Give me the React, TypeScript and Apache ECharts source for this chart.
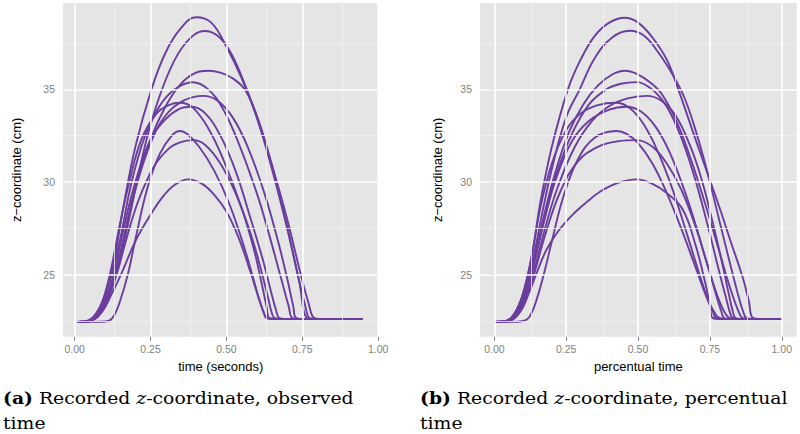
import React, { useEffect, useRef } from "react";
import * as echarts from "echarts";

// ---- axis breaks ----
const xTicks = [0, 0.25, 0.5, 0.75, 1];
const xMinor = [0.125, 0.375, 0.625, 0.875];
const yTicks = [25, 30, 35];
const yMinor = [22.5, 27.5, 32.5, 37.5];

// ---- panel (a): observed time (seconds) vs z (cm) ----
const obsTrial01 = [[0.01,22.45],[0.04,22.5],[0.07,22.9],[0.1,23.9],[0.125,25.3],[0.16,28.6],[0.2,31.9],[0.253,35.0],[0.3,37.0],[0.35,38.3],[0.399,38.89],[0.45,38.6],[0.5,37.3],[0.55,35.6],[0.6,33.5],[0.65,30.9],[0.7,28.0],[0.745,25.0],[0.77,23.5],[0.79,22.65],[0.82,22.6],[0.95,22.6]];
const obsTrial02 = [[0.01,22.45],[0.05,22.5],[0.08,22.9],[0.11,23.9],[0.14,25.3],[0.17,27.3],[0.2,29.6],[0.24,32.5],[0.29,35.1],[0.34,36.9],[0.39,37.9],[0.429,38.15],[0.47,37.9],[0.51,37.1],[0.55,35.7],[0.6,33.5],[0.65,30.7],[0.7,27.5],[0.735,25.0],[0.76,23.3],[0.774,22.65],[0.8,22.6],[0.95,22.6]];
const obsTrial03 = [[0.01,22.45],[0.05,22.5],[0.08,22.8],[0.11,23.7],[0.14,25.4],[0.17,27.6],[0.2,29.7],[0.25,32.3],[0.3,34.1],[0.35,35.3],[0.4,35.9],[0.44,36.0],[0.48,35.9],[0.52,35.6],[0.56,35.0],[0.6,33.6],[0.65,30.9],[0.7,27.6],[0.74,24.6],[0.765,22.65],[0.79,22.6],[0.95,22.6]];
const obsTrial04 = [[0.01,22.45],[0.05,22.5],[0.08,22.9],[0.1,23.8],[0.125,25.2],[0.15,26.9],[0.185,29.8],[0.23,32.4],[0.28,34.1],[0.33,35.0],[0.388,35.38],[0.44,35.0],[0.49,33.9],[0.54,32.1],[0.6,29.4],[0.64,27.2],[0.68,24.8],[0.705,23.3],[0.718,22.65],[0.75,22.6],[0.95,22.6]];
const obsTrial05 = [[0.01,22.45],[0.05,22.5],[0.085,22.9],[0.11,23.8],[0.135,25.1],[0.165,27.2],[0.2,29.6],[0.25,32.1],[0.3,33.6],[0.36,34.4],[0.423,34.65],[0.47,34.4],[0.52,33.5],[0.57,31.9],[0.625,29.4],[0.67,26.8],[0.7,24.8],[0.72,23.3],[0.73,22.65],[0.76,22.6],[0.95,22.6]];
const obsTrial06 = [[0.01,22.45],[0.045,22.5],[0.075,22.9],[0.1,24.0],[0.12,25.3],[0.15,27.8],[0.18,30.0],[0.22,32.3],[0.27,33.7],[0.31,34.15],[0.347,34.28],[0.39,34.0],[0.44,32.9],[0.49,31.2],[0.55,28.6],[0.59,26.4],[0.615,24.6],[0.632,23.3],[0.642,22.65],[0.67,22.6],[0.95,22.6]];
const obsTrial07 = [[0.01,22.45],[0.05,22.5],[0.08,22.9],[0.105,23.8],[0.13,25.1],[0.16,27.4],[0.2,30.0],[0.25,32.3],[0.3,33.4],[0.345,33.95],[0.385,34.06],[0.43,33.7],[0.48,32.5],[0.53,30.6],[0.58,28.0],[0.62,25.8],[0.645,24.2],[0.663,23.1],[0.675,22.65],[0.7,22.6],[0.95,22.6]];
const obsTrial08 = [[0.01,22.45],[0.06,22.45],[0.11,22.5],[0.13,22.8],[0.15,23.6],[0.175,25.0],[0.2,26.9],[0.24,29.7],[0.28,31.5],[0.32,32.5],[0.347,32.75],[0.37,32.6],[0.41,31.9],[0.46,30.6],[0.51,28.8],[0.56,26.4],[0.59,24.7],[0.615,23.3],[0.636,22.65],[0.66,22.6],[0.95,22.6]];
const obsTrial09 = [[0.01,22.45],[0.05,22.5],[0.085,22.9],[0.11,23.7],[0.14,25.1],[0.17,26.9],[0.21,29.0],[0.26,30.8],[0.31,31.8],[0.35,32.15],[0.39,32.26],[0.43,32.0],[0.48,31.0],[0.53,29.4],[0.58,27.2],[0.615,25.2],[0.638,23.7],[0.65,22.9],[0.659,22.65],[0.69,22.6],[0.95,22.6]];
const obsTrial10 = [[0.01,22.45],[0.05,22.5],[0.09,23.0],[0.12,23.9],[0.155,25.1],[0.2,26.8],[0.245,28.1],[0.29,29.2],[0.33,29.85],[0.374,30.14],[0.42,29.9],[0.46,29.3],[0.5,28.4],[0.54,27.0],[0.58,25.1],[0.605,23.8],[0.622,23.0],[0.632,22.65],[0.66,22.6],[0.95,22.6]];

// ---- panel (b): percentual time vs z (cm) ----
const pctTrial01 = [[0,22.45],[0.04,22.5],[0.07,22.9],[0.1,24.0],[0.13,26.0],[0.16,28.9],[0.2,31.9],[0.256,35.0],[0.3,36.6],[0.35,37.9],[0.4,38.6],[0.454,38.86],[0.5,38.6],[0.55,37.8],[0.6,36.6],[0.64,35.0],[0.7,32.3],[0.75,30.1],[0.786,28.5],[0.82,26.9],[0.865,24.8],[0.885,23.6],[0.9,22.65],[0.93,22.6],[1.0,22.6]];
const pctTrial02 = [[0,22.45],[0.045,22.5],[0.075,22.9],[0.1,23.8],[0.13,25.5],[0.165,28.2],[0.2,30.7],[0.25,33.5],[0.297,35.0],[0.35,36.7],[0.41,37.8],[0.471,38.16],[0.52,37.9],[0.57,37.0],[0.62,35.8],[0.66,34.6],[0.7,32.8],[0.74,30.6],[0.78,28.1],[0.82,25.6],[0.85,23.8],[0.868,22.9],[0.878,22.65],[0.91,22.6],[1.0,22.6]];
const pctTrial03 = [[0,22.45],[0.045,22.5],[0.075,22.9],[0.105,23.9],[0.135,25.6],[0.17,28.0],[0.21,30.4],[0.26,32.7],[0.31,34.2],[0.36,35.2],[0.41,35.8],[0.454,36.0],[0.5,35.8],[0.54,35.4],[0.58,34.8],[0.63,33.4],[0.68,31.4],[0.73,29.0],[0.78,26.4],[0.82,24.3],[0.85,23.0],[0.865,22.65],[0.9,22.6],[1.0,22.6]];
const pctTrial04 = [[0,22.45],[0.045,22.5],[0.08,22.9],[0.11,24.0],[0.14,25.8],[0.175,28.1],[0.22,30.6],[0.27,32.6],[0.33,34.2],[0.39,35.0],[0.44,35.3],[0.495,35.39],[0.54,35.1],[0.59,34.3],[0.64,32.8],[0.69,30.6],[0.74,27.8],[0.78,25.3],[0.805,23.8],[0.82,22.95],[0.83,22.65],[0.86,22.6],[1.0,22.6]];
const pctTrial05 = [[0,22.45],[0.05,22.5],[0.085,22.9],[0.115,24.0],[0.145,25.6],[0.18,27.7],[0.22,29.7],[0.28,31.9],[0.34,33.3],[0.4,34.1],[0.46,34.5],[0.53,34.65],[0.58,34.4],[0.63,33.6],[0.68,32.0],[0.72,30.2],[0.76,27.8],[0.79,25.8],[0.815,24.0],[0.83,23.0],[0.84,22.65],[0.87,22.6],[1.0,22.6]];
const pctTrial06 = [[0,22.45],[0.04,22.5],[0.07,22.9],[0.1,24.0],[0.13,26.0],[0.16,28.6],[0.2,31.0],[0.25,32.8],[0.3,33.7],[0.36,34.15],[0.423,34.28],[0.47,34.0],[0.52,33.1],[0.57,31.6],[0.62,29.6],[0.67,27.2],[0.71,25.2],[0.745,23.6],[0.77,22.85],[0.785,22.65],[0.82,22.6],[1.0,22.6]];
const pctTrial07 = [[0,22.45],[0.05,22.5],[0.08,22.9],[0.11,24.0],[0.14,25.7],[0.175,28.0],[0.215,30.2],[0.27,32.2],[0.33,33.3],[0.4,33.9],[0.46,34.06],[0.51,33.8],[0.56,33.0],[0.61,31.6],[0.66,29.6],[0.7,27.7],[0.74,25.6],[0.775,23.9],[0.8,23.0],[0.82,22.65],[0.85,22.6],[1.0,22.6]];
const pctTrial08 = [[0,22.45],[0.06,22.45],[0.1,22.5],[0.125,22.8],[0.15,23.8],[0.175,25.2],[0.2,26.8],[0.24,29.2],[0.29,31.2],[0.35,32.4],[0.425,32.75],[0.46,32.6],[0.5,32.1],[0.55,31.0],[0.6,29.4],[0.65,27.5],[0.7,25.4],[0.735,23.9],[0.76,23.0],[0.773,22.65],[0.81,22.6],[1.0,22.6]];
const pctTrial09 = [[0,22.45],[0.05,22.5],[0.085,22.9],[0.115,23.9],[0.145,25.4],[0.18,27.3],[0.23,29.5],[0.29,31.1],[0.36,31.9],[0.43,32.2],[0.495,32.26],[0.55,31.9],[0.6,31.0],[0.65,29.6],[0.7,27.6],[0.74,25.6],[0.77,24.0],[0.79,23.0],[0.8,22.65],[0.83,22.6],[1.0,22.6]];
const pctTrial10 = [[0,22.45],[0.05,22.5],[0.09,23.0],[0.12,24.0],[0.15,25.2],[0.18,26.3],[0.22,27.3],[0.27,28.2],[0.32,28.9],[0.37,29.5],[0.43,29.95],[0.495,30.14],[0.55,29.9],[0.6,29.4],[0.656,28.5],[0.7,26.6],[0.73,24.8],[0.75,23.4],[0.76,22.65],[0.79,22.6],[1.0,22.6]];

const observedTrials = [obsTrial01, obsTrial02, obsTrial03, obsTrial04, obsTrial05, obsTrial06, obsTrial07, obsTrial08, obsTrial09, obsTrial10];
const percentualTrials = [pctTrial01, pctTrial02, pctTrial03, pctTrial04, pctTrial05, pctTrial06, pctTrial07, pctTrial08, pctTrial09, pctTrial10];

const xTitles = ["time (seconds)", "percentual time"];
const yTitle = "z\u2212coordinate (cm)";
const captionLabels = ["(a)", "(b)"];
const captionLine1 = [" Recorded ", " Recorded "];
const captionLine1b = ["-coordinate, observed", "-coordinate, percentual"];
const captionLine2 = ["time", "time"];

const SANS = "Liberation Sans, Arial, Helvetica, sans-serif";
const SERIF = "DejaVu Serif, Liberation Serif, serif";
const LINE = "#6A3D9E";
const GREY = "#7F7F7F";
const CAP_SIZE = 16.5;
const CAP_STRETCH = 1.14;

function gridMarks(gi: number) {
  const major = { color: "#FFFFFF", width: 1.6, type: "solid" };
  const minor = { color: "#F3F3F3", width: 0.8, type: "solid" };
  return {
    type: "line",
    xAxisIndex: gi,
    yAxisIndex: gi,
    data: [],
    z: 1,
    silent: true,
    markLine: {
      silent: true,
      symbol: ["none", "none"],
      label: { show: false },
      emphasis: { disabled: true },
      animation: false,
      data: [
        ...xMinor.map((v) => ({ xAxis: v, lineStyle: minor })),
        ...yMinor.map((v) => ({ yAxis: v, lineStyle: minor })),
        ...xTicks.map((v) => ({ xAxis: v, lineStyle: major })),
        ...yTicks.map((v) => ({ yAxis: v, lineStyle: major })),
      ],
    },
  };
}

function xAxisDef(gi: number, min: number, max: number) {
  return {
    type: "value",
    gridIndex: gi,
    min,
    max,
    name: xTitles[gi],
    nameLocation: "middle",
    nameGap: 19,
    nameTextStyle: { color: "#000", fontSize: 13, fontFamily: SANS },
    axisLine: { show: false },
    axisTick: { show: true, length: 4, customValues: xTicks, lineStyle: { color: GREY, width: 1 } },
    axisLabel: {
      customValues: xTicks,
      formatter: (v: number) => v.toFixed(2),
      color: GREY,
      fontSize: 10.5,
      fontFamily: SANS,
      margin: 7,
    },
    splitLine: { show: false },
  };
}

function yAxisDef(gi: number, gap: number) {
  return {
    type: "value",
    gridIndex: gi,
    min: 21.65,
    max: 39.66,
    name: yTitle,
    nameLocation: "middle",
    nameGap: gap,
    nameTextStyle: { color: "#000", fontSize: 13, fontFamily: SANS },
    axisLine: { show: false },
    axisTick: { show: true, length: 4, customValues: yTicks, lineStyle: { color: GREY, width: 1 } },
    axisLabel: {
      customValues: yTicks,
      formatter: (v: number) => String(v),
      color: GREY,
      fontSize: 10.5,
      fontFamily: SANS,
      margin: 8,
    },
    splitLine: { show: false },
  };
}

function curveSeries(gi: number, trials: number[][][]) {
  return trials.map((d, i) => ({
    type: "line",
    name: `trial ${i + 1}`,
    xAxisIndex: gi,
    yAxisIndex: gi,
    data: d,
    z: 3,
    showSymbol: false,
    symbol: "none",
    smooth: 0.4,
    silent: true,
    lineStyle: { color: LINE, width: 1.9 },
  }));
}

function caption(gi: number, x: number) {
  return [
    {
      type: "text",
      x,
      y: 398,
      scaleX: CAP_STRETCH,
      silent: true,
      style: {
        text: `{b|${captionLabels[gi]}}{r|${captionLine1[gi]}}{i|z}{r|${captionLine1b[gi]}}`,
        verticalAlign: "middle",
        rich: {
          b: { fontFamily: SERIF, fontSize: CAP_SIZE, fontWeight: "bold", fill: "#000" },
          r: { fontFamily: SERIF, fontSize: CAP_SIZE, fill: "#000" },
          i: { fontFamily: SERIF, fontSize: CAP_SIZE, fontStyle: "italic", fill: "#000" },
        },
      },
    },
    {
      type: "text",
      x,
      y: 423.5,
      scaleX: CAP_STRETCH,
      silent: true,
      style: {
        text: captionLine2[gi],
        fontFamily: SERIF,
        fontSize: CAP_SIZE,
        fill: "#000",
        verticalAlign: "middle",
      },
    },
  ];
}

export default function App() {
  const ref = useRef<HTMLDivElement>(null);
  useEffect(() => {
    if (!ref.current) return;
    const chart = echarts.init(ref.current, undefined, { renderer: "svg" });
    chart.setOption({
      animation: false,
      backgroundColor: "#FFFFFF",
      grid: [
        { left: 63, top: 3, width: 315.5, height: 333.7, show: true, backgroundColor: "#E5E5E5", borderWidth: 0 },
        { left: 480, top: 3, width: 316.7, height: 333.7, show: true, backgroundColor: "#E5E5E5", borderWidth: 0 },
      ],
      xAxis: [xAxisDef(0, -0.0385, 1.001), xAxisDef(1, -0.05, 1.052)],
      yAxis: [yAxisDef(0, 40), yAxisDef(1, 36.5)],
      series: [
        gridMarks(0),
        gridMarks(1),
        ...curveSeries(0, observedTrials),
        ...curveSeries(1, percentualTrials),
      ],
      graphic: [...caption(0, 3), ...caption(1, 420)],
    });
    return () => chart.dispose();
  }, []);
  return <div ref={ref} style={{ width: 800, height: 434, position: "absolute", left: 0, top: 0 }} />;
}
